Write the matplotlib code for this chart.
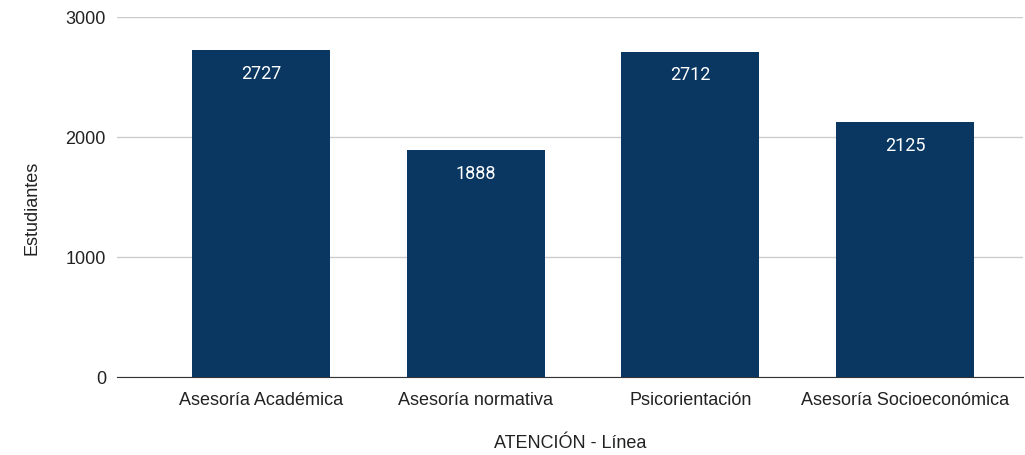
import matplotlib.pyplot as plt
import numpy as np

plt.rcParams['font.family'] = ['Liberation Sans', 'DejaVu Sans']

categorias = ['Asesoría Académica', 'Asesoría normativa', 'Psicorientación', 'Asesoría Socioeconómica']
estudiantes = [2727, 1888, 2712, 2125]

fig = plt.figure(figsize=(10.25, 4.56), dpi=100)
ax = fig.add_axes([117/1025, 78/456, 906/1025, 360/456])

x = np.arange(len(categorias))
bars = ax.bar(x, estudiantes, width=0.643, color='#0a3761', zorder=3)

for b, v in zip(bars, estudiantes):
    ax.annotate(str(v), (b.get_x() + b.get_width()/2, v), xytext=(0, -10),
                textcoords='offset points', ha='center', va='top',
                color='white', fontsize=13, family=['Roboto', 'DejaVu Sans'])

ax.set_xlim(-0.671, 3.55)
ax.set_ylim(0, 3000)
ax.set_yticks([0, 1000, 2000, 3000])
ax.set_xticks(x)
ax.set_xticklabels(categorias)
ax.grid(axis='y', color='#cccccc', linewidth=1, zorder=0)
for s in ['top', 'right', 'left']:
    ax.spines[s].set_visible(False)
ax.spines['bottom'].set_color('#333333')
ax.tick_params(axis='both', length=0, labelsize=13, colors='#222222')
ax.tick_params(axis='x', pad=10)
ax.tick_params(axis='y', pad=8)

fig.text(32/1025, 1 - 208/456, 'Estudiantes', rotation=90, ha='center', va='center',
         fontsize=13, color='#222222')
fig.text(570/1025, 1 - 444/456, 'ATENCIÓN - Línea', ha='center', va='center',
         fontsize=13, color='#222222')

fig.savefig('out.png', dpi=100)
